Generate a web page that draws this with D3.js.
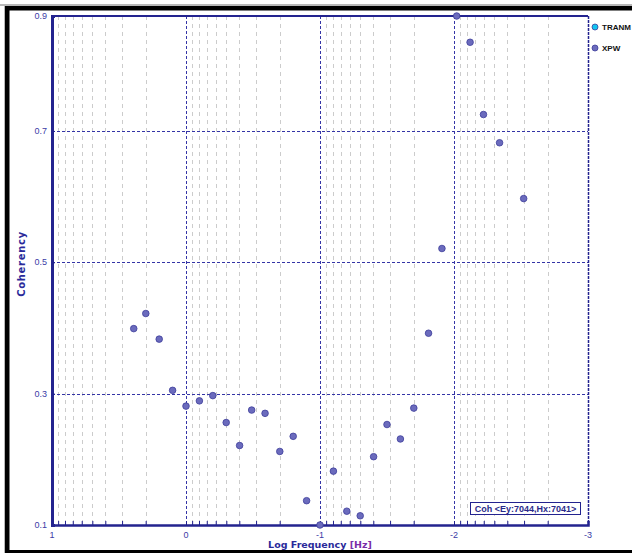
<!DOCTYPE html>
<html>
<head>
<meta charset="utf-8">
<script src="https://cdn.jsdelivr.net/npm/d3@7"></script>
<style>
  body { margin: 0; background: #fff; }
  svg { display: block; }
</style>
</head>
<body>
<svg id="chart" width="632" height="553"></svg>
<script>
// log10 of frequency for each estimate, and the coherency
var logFreq = [0.39, 0.30, 0.20, 0.10, 0.00, -0.10, -0.20, -0.30, -0.40, -0.49,
  -0.59, -0.70, -0.80, -0.90, -1.00, -1.10, -1.20, -1.30, -1.40, -1.50,
  -1.60, -1.70, -1.81, -1.91, -2.02, -2.12, -2.22, -2.34, -2.52];
var coherency = [0.399, 0.422, 0.383, 0.305, 0.281, 0.289, 0.297, 0.256, 0.221, 0.275,
  0.270, 0.212, 0.235, 0.137, 0.100, 0.182, 0.121, 0.114, 0.204, 0.253,
  0.231, 0.278, 0.392, 0.521, 0.875, 0.835, 0.725, 0.682, 0.597];

var xTicks = [1, 0, -1, -2, -3];
var yTicks = [0.1, 0.3, 0.5, 0.7];
var legendNames = ["TRANM", "XPW"];
var legendColors = ["#11c4f0", "#6b6bbd"];
var boxText = "Coh <Ey:7044,Hx:7041>";

var svg = d3.select("#chart");
var navy = "#23238f";
var tickBlue = "#3b3ba6";

// window frame
svg.append("rect").attr("x", 0).attr("y", 0).attr("width", 632).attr("height", 553).attr("fill", "#fff");
svg.append("rect").attr("x", 0).attr("y", 4).attr("width", 632).attr("height", 2).attr("fill", "#b8b8b8");
svg.append("rect").attr("x", 4).attr("y", 4).attr("width", 2).attr("height", 549).attr("fill", "#b8b8b8");
svg.append("rect").attr("x", 5).attr("y", 6).attr("width", 627).attr("height", 4.5).attr("fill", "#000");
svg.append("rect").attr("x", 5).attr("y", 6).attr("width", 4.5).attr("height", 547).attr("fill", "#000");
svg.append("rect").attr("x", 5).attr("y", 550).attr("width", 627).attr("height", 3).attr("fill", "#000");

// plot box (window.top is reserved, so keep names distinct)
var pL = 52, pR = 588, pT = 16, pB = 525;

var x = d3.scaleLinear().domain([1, -3]).range([pL, pR]);
var y = d3.scaleLinear().domain(d3.extent(coherency)).range([pB, pT]);

// minor log gridlines inside each decade
var minor = [];
xTicks.slice(1).forEach(function(d) {
  for (var k = 2; k <= 9; k++) minor.push(d + Math.log10(k));
});

var g = svg.append("g");

g.selectAll(".minor").data(minor).enter().append("line")
  .attr("x1", function(d) { return Math.round(x(d)) + 0.5; })
  .attr("x2", function(d) { return Math.round(x(d)) + 0.5; })
  .attr("y1", pT).attr("y2", pB)
  .attr("stroke", "#cccccc").attr("stroke-dasharray", "4,4");

g.selectAll(".vmajor").data(xTicks.slice(1, -1)).enter().append("line")
  .attr("x1", function(d) { return Math.round(x(d)) + 0.5; })
  .attr("x2", function(d) { return Math.round(x(d)) + 0.5; })
  .attr("y1", pT).attr("y2", pB)
  .attr("stroke", "#3434a6").attr("stroke-dasharray", "3,2");

g.selectAll(".hmajor").data(yTicks.slice(1)).enter().append("line")
  .attr("x1", pL).attr("x2", pR)
  .attr("y1", function(d) { return Math.round(y(d)) + 0.5; })
  .attr("y2", function(d) { return Math.round(y(d)) + 0.5; })
  .attr("stroke", "#3434a6").attr("stroke-dasharray", "3,2");

// plot border: solid top, dashed right, thick left and bottom axes
g.append("line").attr("x1", pL).attr("x2", pR).attr("y1", pT).attr("y2", pT)
  .attr("stroke", navy).attr("stroke-width", 2);
g.append("line").attr("x1", pR + 0.5).attr("x2", pR + 0.5).attr("y1", pT).attr("y2", pB)
  .attr("stroke", navy).attr("stroke-width", 1.5).attr("stroke-dasharray", "3,1");

// bottom axis
var xAxis = d3.axisBottom(x).tickValues(xTicks.concat(minor)).tickSize(-4).tickFormat("");
var gx = svg.append("g").attr("transform", "translate(0," + pB + ")").call(xAxis);
gx.select(".domain").attr("stroke", navy).attr("stroke-width", 2.5);
gx.selectAll(".tick line").attr("stroke", navy);

svg.selectAll(".xlab").data(xTicks).enter().append("text")
  .attr("x", function(d) { return x(d); })
  .attr("y", 538)
  .attr("text-anchor", "middle")
  .attr("font-family", "Liberation Sans, Arial, sans-serif")
  .attr("font-size", 9)
  .attr("fill", tickBlue)
  .text(function(d) { return d; });

// left axis
var yAxis = d3.axisLeft(y).tickValues(yTicks).tickSize(-3).tickFormat("");
var gy = svg.append("g").attr("transform", "translate(" + pL + ",0)").call(yAxis);
gy.select(".domain").attr("stroke", navy).attr("stroke-width", 3);
gy.selectAll(".tick line").attr("stroke", navy);

var yLabelVals = yTicks.concat([y.domain()[1]]);
svg.selectAll(".ylab").data(yLabelVals).enter().append("text")
  .attr("x", pL - 5)
  .attr("y", function(d) { return y(d) + 3; })
  .attr("text-anchor", "end")
  .attr("font-family", "Liberation Sans, Arial, sans-serif")
  .attr("font-size", 9)
  .attr("fill", tickBlue)
  .text(function(d) { return d3.format(".1f")(d); });

// axis titles
svg.append("text")
  .attr("transform", "translate(25,264) rotate(-90)")
  .attr("text-anchor", "middle")
  .attr("font-family", "DejaVu Sans, Verdana, sans-serif")
  .attr("font-weight", "bold")
  .attr("font-size", 10)
  .attr("letter-spacing", 0.7)
  .attr("fill", "#2a2a9a")
  .text("Coherency");

var xt = svg.append("text")
  .attr("x", 320).attr("y", 548)
  .attr("text-anchor", "middle")
  .attr("font-family", "DejaVu Sans, Verdana, sans-serif")
  .attr("font-weight", "bold")
  .attr("font-size", 9.5)
  .attr("fill", "#2a2a9a");
xt.append("tspan").text("Log Frequency ");
xt.append("tspan").attr("fill", "#7a2ea8").text("[Hz]");

// data points
svg.selectAll(".pt").data(logFreq).enter().append("circle")
  .attr("cx", function(d) { return x(d); })
  .attr("cy", function(d, i) { return y(coherency[i]); })
  .attr("r", 3.3)
  .attr("fill", "#6b6bbd")
  .attr("stroke", "#3d3d9a")
  .attr("stroke-width", 0.8);

// legend
var lg = svg.selectAll(".lg").data(legendNames).enter().append("g")
  .attr("transform", function(d, i) { return "translate(595," + (27 + i * 21) + ")"; });
lg.append("circle").attr("r", 3).attr("fill", function(d, i) { return legendColors[i]; })
  .attr("stroke", "#3d3d9a").attr("stroke-width", 0.8);
lg.append("text").attr("x", 7).attr("y", 3)
  .attr("font-family", "Liberation Sans, Arial, sans-serif")
  .attr("font-weight", "bold").attr("font-size", 8)
  .attr("fill", "#111").text(function(d) { return d; });

// annotation box
svg.append("rect").attr("x", 470.5).attr("y", 502.5).attr("width", 110).attr("height", 12)
  .attr("fill", "#fff").attr("stroke", navy);
svg.append("text").attr("x", 525.5).attr("y", 511.5)
  .attr("text-anchor", "middle")
  .attr("font-family", "Liberation Sans, Arial, sans-serif")
  .attr("font-weight", "bold").attr("font-size", 9)
  .attr("fill", "#2a2a8a").text(boxText);
</script>
</body>
</html>
